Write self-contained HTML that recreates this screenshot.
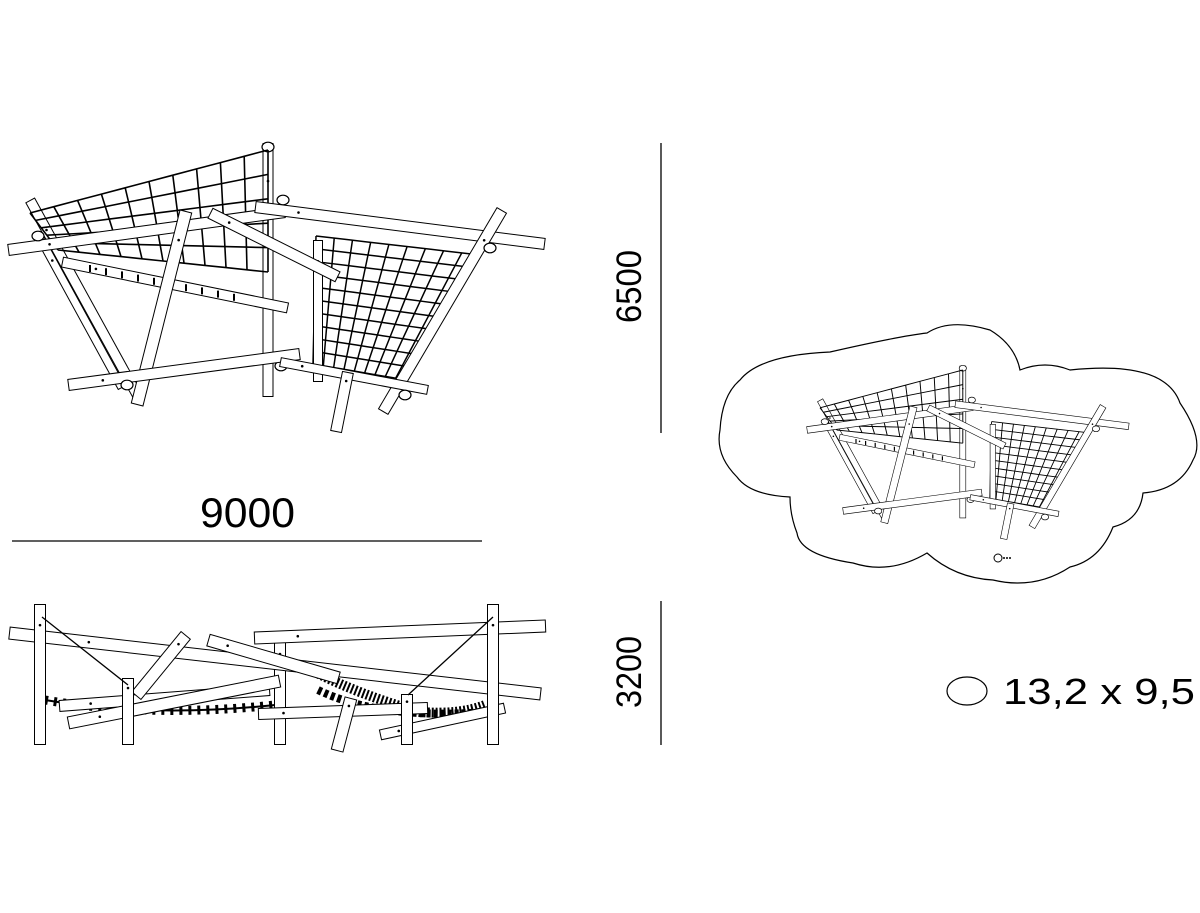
<!DOCTYPE html>
<html><head><meta charset="utf-8"><style>
html,body{margin:0;padding:0;background:#fff;}
svg{display:block;}
text{font-family:"Liberation Sans",sans-serif;fill:#000;}
</style></head><body>
<svg id="s" width="1200" height="913" viewBox="0 0 1200 913" xmlns="http://www.w3.org/2000/svg">
<defs><g id="top"></g></defs>
<g id="side"></g>
<use href="#top"/>
<path d="M740,380 Q760,355 830,352 Q900,336 927,333 Q950,318 990,330 Q1015,345 1020,370 Q1045,360 1070,370 Q1165,360 1180,403 Q1205,440 1193,460 Q1180,490 1143,493 Q1140,520 1113,527 Q1100,560 1070,567 Q1035,590 993,580 Q955,578 927,553 Q890,575 853,563 Q800,555 797,533 Q790,515 790,497 Q750,495 737,477 Q715,455 720,430 Q722,395 740,380 Z" fill="none" stroke="#000" stroke-width="1.2"/>
<use href="#top" transform="translate(802,280) scale(0.6)"/>
<circle cx="998" cy="558" r="4" fill="none" stroke="#000" stroke-width="1"/>
<line x1="1003" y1="558" x2="1012" y2="558" stroke="#000" stroke-width="1.5" stroke-dasharray="2 1"/>
<line x1="661" y1="143" x2="661" y2="433" stroke="#000" stroke-width="1.3"/>
<line x1="12" y1="541" x2="482" y2="541" stroke="#000" stroke-width="1.3"/>
<line x1="661" y1="601" x2="661" y2="745" stroke="#000" stroke-width="1.3"/>
<text x="200" y="527" font-size="42" textLength="95" lengthAdjust="spacingAndGlyphs">9000</text>
<text transform="translate(641,323) rotate(-90)" font-size="35" textLength="73" lengthAdjust="spacingAndGlyphs">6500</text>
<text transform="translate(641,708) rotate(-90)" font-size="35" textLength="72" lengthAdjust="spacingAndGlyphs">3200</text>
<ellipse cx="967" cy="691" rx="20" ry="14" fill="none" stroke="#000" stroke-width="1.2"/>
<text x="1003" y="704" font-size="36" textLength="192" lengthAdjust="spacingAndGlyphs">13,2 x 9,5</text>
</svg>
<script>
var NS="http://www.w3.org/2000/svg";
function el(p,t,a){var e=document.createElementNS(NS,t);for(var k in a)e.setAttribute(k,a[k]);p.appendChild(e);return e;}
function pole(g,x1,y1,x2,y2,w){
 el(g,"line",{x1:x1,y1:y1,x2:x2,y2:y2,stroke:"#000","stroke-width":w+2});
 var dx=x2-x1,dy=y2-y1,L=Math.hypot(dx,dy),ux=dx/L,uy=dy/L;
 el(g,"line",{x1:x1+ux,y1:y1+uy,x2:x2-ux,y2:y2-uy,stroke:"#fff","stroke-width":w});
 el(g,"circle",{cx:x1+dx*0.15,cy:y1+dy*0.15,r:1.3,fill:"#000"});
}
function net(g,TL,TR,BR,BL,nc,nr,sw){
 function P(u,v){return [(1-u)*(1-v)*TL[0]+u*(1-v)*TR[0]+u*v*BR[0]+(1-u)*v*BL[0],(1-u)*(1-v)*TL[1]+u*(1-v)*TR[1]+u*v*BR[1]+(1-u)*v*BL[1]];}
 for(var i=0;i<=nc;i++){var pts=[];for(var j=0;j<=10;j++){var p=P(i/nc,j/10);pts.push(p.join(","));}
  el(g,"polyline",{points:pts.join(" "),fill:"none",stroke:"#000","stroke-width":sw});}
 for(var j=0;j<=nr;j++){var pts=[];for(var i=0;i<=10;i++){var p=P(i/10,j/nr);pts.push(p.join(","));}
  el(g,"polyline",{points:pts.join(" "),fill:"none",stroke:"#000","stroke-width":sw});}
}
function ring(g,x,y,r){el(g,"ellipse",{cx:x,cy:y,rx:r,ry:r*0.8,fill:"#fff",stroke:"#000","stroke-width":1.2});}
var T=document.getElementById("top");
// background poles
pole(T,268,143,268,397,9);
ring(T,268,147,6);
pole(T,30,200,140,400,9);
pole(T,40,238,122,388,7);
ring(T,283,200,6);ring(T,281,366,6);
net(T,[30,213],[268,150],[268,272],[58,250],10,5,1.6);
net(T,[316,236],[480,255],[406,380],[313,364],9,10,1.5);
pole(T,318,240,318,382,8);
pole(T,8,250,285,212,10);
pole(T,255,207,545,244,10);
pole(T,210,213,338,277,10);
pole(T,62,262,288,308,9);
// knots along bar
for(var k=0;k<10;k++){var x=90+k*16,y=268+k*3.2;el(T,"line",{x1:x,y1:y-3,x2:x,y2:y+4,stroke:"#000","stroke-width":2});}
pole(T,186,211,137,405,11);
pole(T,68,385,300,354,10);
pole(T,502,210,383,412,10);
pole(T,280,362,428,390,8);
pole(T,348,372,336,432,10);
ring(T,38,236,6);ring(T,127,385,6);ring(T,490,248,6);ring(T,405,395,6);
// side view
var S=document.getElementById("side");
// nets (hammocks)
el(S,"path",{d:"M45,700 Q150,718 275,705",fill:"none",stroke:"#000","stroke-width":9,"stroke-dasharray":"3 6"});
el(S,"path",{d:"M45,700 Q150,718 275,705",fill:"none",stroke:"#000","stroke-width":2});
el(S,"path",{d:"M315,672 Q360,695 420,712 Q460,715 485,705",fill:"none",stroke:"#000","stroke-width":10,"stroke-dasharray":"2 2"});
el(S,"path",{d:"M318,690 Q380,720 485,712",fill:"none",stroke:"#000","stroke-width":8,"stroke-dasharray":"4 3"});
pole(S,59,706,270,690,10);
pole(S,380,735,505,708,9);
pole(S,280,638,280,745,10);
pole(S,9,633,541,694,11);
pole(S,254,638,546,626,11);
pole(S,208,640,339,678,11);
pole(S,186,635,136,696,11);
pole(S,68,723,280,681,11);
pole(S,258,714,428,708,10);
pole(S,351,698,337,751,11);
pole(S,40,604,40,745,10);
pole(S,128,678,128,745,10);
pole(S,407,694,407,745,10);
pole(S,493,604,493,745,10);
el(S,"line",{x1:42,y1:617,x2:128,y2:685,stroke:"#000","stroke-width":1.3});
el(S,"line",{x1:493,y1:617,x2:408,y2:695,stroke:"#000","stroke-width":1.3});
</script>
</body></html>
